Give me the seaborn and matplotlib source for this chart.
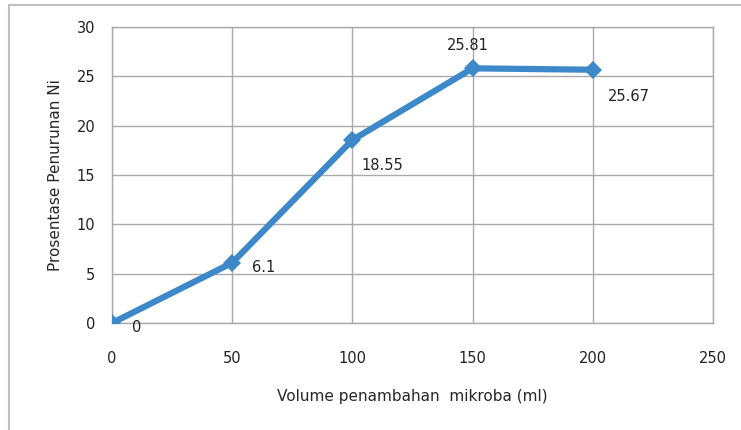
import matplotlib
matplotlib.use("Agg")
import matplotlib.pyplot as plt
import seaborn as sns
import pandas as pd
from matplotlib.patches import Rectangle

# data
volume = [0, 50, 100, 150, 200]
penurunan = [0, 6.1, 18.55, 25.81, 25.67]
labels = ["0", "6.1", "18.55", "25.81", "25.67"]
# label offsets in pixels (dx, dy) and alignment
offsets = [(20, -4), (20, -5), (9, -26), (-5, 23), (15, -27)]
aligns = ["left", "left", "left", "center", "left"]

data = pd.DataFrame({"volume": volume, "penurunan": penurunan})

sns.set_style("white")
plt.rcParams['font.family'] = ['DejaVu Sans']

fig = plt.figure(figsize=(7.41, 4.30), dpi=100)
ax = fig.add_axes([112 / 741, 1 - 323 / 430, (713 - 112) / 741, (323 - 27) / 430])

sns.lineplot(data=data, x="volume", y="penurunan", ax=ax, color="#3d88c9",
             linewidth=4.5, marker="D", markersize=9, markeredgewidth=0, zorder=3)

ax.set_xlim(0, 250)
ax.set_ylim(0, 30)
ax.set_xticks(range(0, 251, 50))
ax.set_yticks(range(0, 31, 5))
ax.grid(True, color="#aaaaaa", linewidth=1)
for s in ax.spines.values():
    s.set_color("#aaaaaa")
    s.set_linewidth(1)
ax.tick_params(length=0, labelsize=10.5, colors="#222222")
ax.tick_params(axis="x", pad=20)
ax.tick_params(axis="y", pad=12)

ax.set_xlabel("Volume penambahan  mikroba (ml)", fontsize=11, labelpad=17)
ax.set_ylabel("Prosentase Penurunan Ni", fontsize=11, labelpad=10)

for x, y, t, (dx, dy), ha in zip(volume, penurunan, labels, offsets, aligns):
    ax.annotate(t, (x, y), xytext=(dx, dy), textcoords="offset pixels",
                ha=ha, va="center", fontsize=10.5, color="#222222",
                annotation_clip=False)

# outer chart frame
fig.patches.append(Rectangle((9 / 741, -0.1), 1.2, 1.1 - 5 / 430,
                             transform=fig.transFigure, fill=False,
                             edgecolor="#c0c0c0", linewidth=1.5))

plt.savefig("out.png", dpi=100)
